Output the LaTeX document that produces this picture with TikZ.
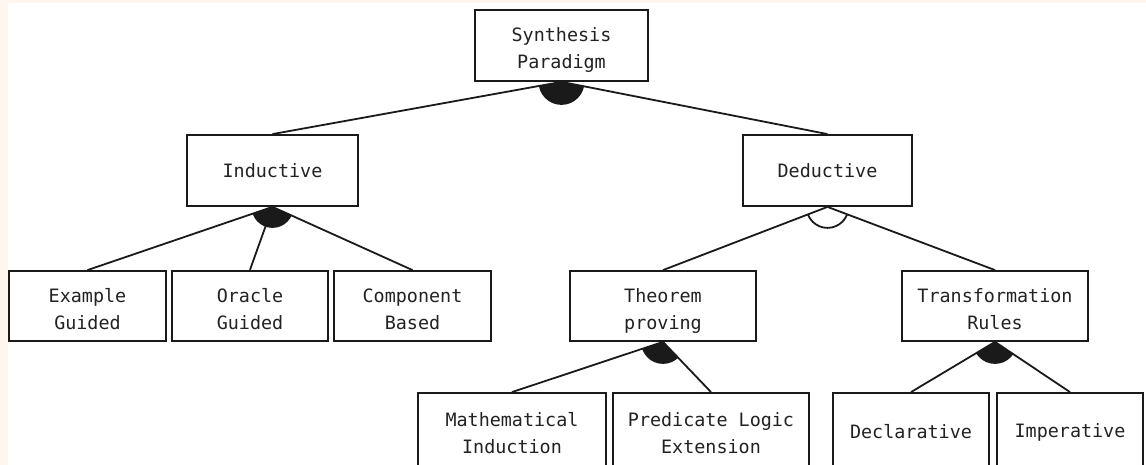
\documentclass[tikz,border=0pt]{standalone}
\usepackage{fontspec}
\setmainfont{DejaVu Sans Mono}
\usetikzlibrary{calc}
\definecolor{boxline}{HTML}{1A1A1A}
\definecolor{labeltext}{HTML}{222222}
\definecolor{paper}{HTML}{FFF7EF}
\begin{document}
\begin{tikzpicture}[x=1pt,y=1pt,
  box/.style={draw=boxline, line width=1.8pt, fill=white, align=center,
    inner sep=0pt, text=labeltext, font=\fontsize{18.4}{27}\selectfont,
    execute at end node={\rule[-4pt]{0pt}{4pt}}},
  % a strut beside the label block sets where the label sits in its box
  lift/.style={execute at begin node={\rule{0pt}{#1}}},
  toprow/.style={box, minimum height=71pt},
  midrow/.style={box, minimum height=70pt},
  lowrow/.style={box, minimum height=80pt},
  edge/.style={draw=boxline, line width=1.8pt},
]
\useasboundingbox (0,0) rectangle (1146,465);
\clip (0,0) rectangle (1146,465);
\fill[paper] (0,0) rectangle (1146,465);
\fill[white] (8,0) rectangle (1146,462);

% feature boxes
\node[toprow, lift=50pt, minimum width=173pt] (syn)   at (561.5,419.5) {Synthesis\\Paradigm};
\node[toprow, lift=18pt, minimum width=171pt] (ind)   at (272.5,294.5) {Inductive};
\node[toprow, lift=18pt, minimum width=169pt] (ded)   at (827.5,294.5) {Deductive};
\node[midrow, lift=51pt, minimum width=157pt] (ex)    at (87.5,159)    {Example\\Guided};
\node[midrow, lift=51pt, minimum width=156pt, line width=2.3pt] (orc) at (250,159) {Oracle\\Guided};
\node[midrow, lift=51pt, minimum width=157pt] (comp)  at (412.5,159)   {Component\\Based};
\node[midrow, lift=51pt, minimum width=186pt] (thm)   at (663,159)     {Theorem\\proving};
\node[midrow, lift=51pt, minimum width=186pt] (trans) at (995,159)     {Transformation\\Rules};
\node[lowrow, lift=45pt, minimum width=188pt] (math)  at (512,32)      {Mathematical\\Induction};
\node[lowrow, lift=45pt, minimum width=196pt] (pred)  at (711,32)      {Predicate Logic\\Extension};
\node[lowrow, lift=11pt, minimum width=156pt] (decl)  at (911,32)      {Declarative};
\node[lowrow, lift=11pt, minimum width=146pt] (imp)   at (1070,32)     {Imperative};

% decomposition edges
\draw[edge] (syn.south) -- (ind.north);
\draw[edge] (syn.south) -- (ded.north);
\draw[edge] (ind.south) -- (ex.north);
\draw[edge] (ind.south) -- (orc.north);
\draw[edge] (ind.south) -- (comp.north);
\draw[edge] (ded.south) -- (thm.north);
\draw[edge] (ded.south) -- (trans.north);
\draw[edge] (thm.south) -- (math.north);
\draw[edge] (thm.south) -- (pred.north);
\draw[edge] (trans.south) -- (decl.north);
\draw[edge] (trans.south) -- (imp.north);

% group markers: filled wedge = and/or group, open arc = alternative
\begin{scope}
  \clip (syn.south) -- ($(syn.south)!4!(ind.north)$) -- ($(syn.south)!4!(ded.north)$) -- cycle;
  \fill[boxline] (syn.south) circle (23pt);
\end{scope}
\begin{scope}
  \clip (ind.south) -- ($(ind.south)!4!(ex.north)$) -- ($(ind.south)!4!(comp.north)$) -- cycle;
  \fill[boxline] (ind.south) circle (21pt);
\end{scope}
\begin{scope}
  \clip (ded.south) -- ($(ded.south)!4!(thm.north)$) -- ($(ded.south)!4!(trans.north)$) -- cycle;
  \draw[boxline, line width=1.8pt] (ded.south) circle (21pt);
\end{scope}
\begin{scope}
  \clip (thm.south) -- ($(thm.south)!4!(math.north)$) -- ($(thm.south)!4!(pred.north)$) -- cycle;
  \fill[boxline] (thm.south) circle (22pt);
\end{scope}
\begin{scope}
  \clip (trans.south) -- ($(trans.south)!4!(decl.north)$) -- ($(trans.south)!4!(imp.north)$) -- cycle;
  \fill[boxline] (trans.south) circle (22pt);
\end{scope}
\end{tikzpicture}
\end{document}
